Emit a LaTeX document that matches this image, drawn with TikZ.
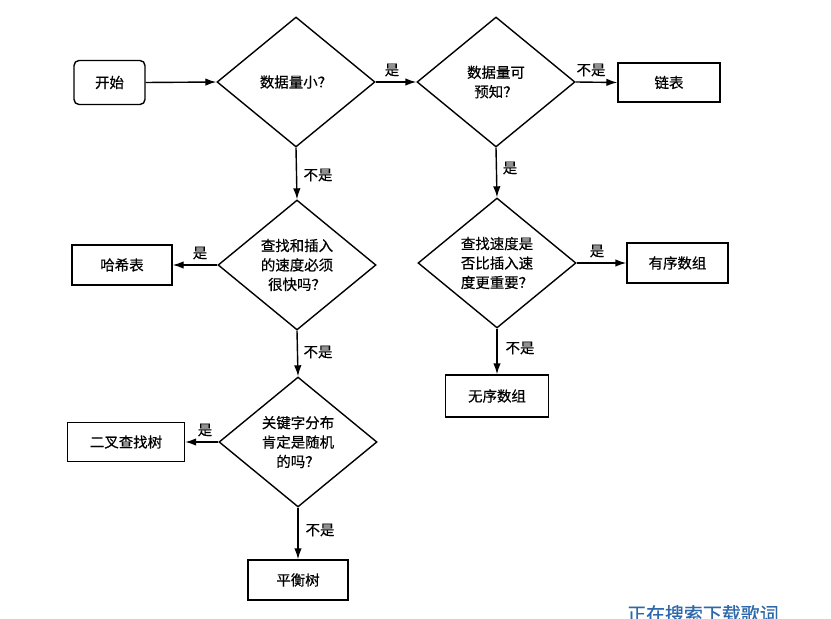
\documentclass[tikz,border=0pt]{standalone}
\usepackage{fontspec}
\setmainfont[FakeBold=0.5]{Noto Sans CJK SC}
\usetikzlibrary{shapes.geometric,arrows.meta}
\definecolor{wmblue}{RGB}{45,105,170}
\tikzset{
  every node/.style={font=\fontsize{14.5}{19.5}\selectfont},
  box/.style={draw, line width=1.4bp, minimum height=40bp, inner sep=0pt},
  startbox/.style={draw, line width=1.4bp, rounded corners=5bp, minimum width=71bp, minimum height=44bp},
  dec/.style={draw, diamond, line width=1.4bp, aspect=1.215, minimum width=158bp, minimum height=130bp, inner sep=0pt, align=center},
  arr/.style={line width=1.4bp, -{Latex[length=11bp,width=7.5bp]}},
  lbl/.style={inner sep=0pt}
}
\begin{document}
\begin{tikzpicture}[x=1bp,y=-1bp]
\useasboundingbox (0,0) rectangle (831,619);
\fill[white] (0,0) rectangle (831,619);
% nodes
\node[startbox] (start) at (109.5,82.5) {开始};
\node[dec] (d1) at (296,82) {数据量小？};
\node[dec] (d2) at (496,82) {数据量可\\预知？};
\node[box, minimum width=102bp, minimum height=39bp] (list) at (669,82.5) {链表};
\node[dec] (d3) at (297,265) {查找和插入\\的速度必须\\很快吗？};
\node[box, minimum width=100bp] (hash) at (122,265) {哈希表};
\node[dec] (d4) at (497,263) {查找速度是\\否比插入速\\度更重要？};
\node[box, minimum width=101bp] (sorted) at (677.5,263) {有序数组};
\node[box, minimum width=103bp, minimum height=42bp] (unsorted) at (497,396) {无序数组};
\node[dec] (d5) at (298,442) {关键字分布\\肯定是随机\\的吗？};
\node[box, minimum width=117bp, minimum height=39bp] (bst) at (126,442) {二叉查找树};
\node[box, minimum width=100bp] (avl) at (298,580) {平衡树};
% connectors
\draw[arr] (start.east) -- (d1.west);
\draw[arr] (d1.east) -- (d2.west);
\draw[arr] (d2.east) -- (list.west);
\draw[arr] (d1.south) -- (d3.north);
\draw[arr] (d2.south) -- (d4.north);
\draw[arr] (d3.west) -- (hash.east);
\draw[arr] (d4.east) -- (sorted.west);
\draw[arr] (d3.south) -- (d5.north);
\draw[arr] (d4.south) -- (unsorted.north);
\draw[arr] (d5.west) -- (bst.east);
\draw[arr] (d5.south) -- (avl.north);
% labels
\node[lbl] (l1) at (392,70) {是};
\node[lbl] (l2) at (591,70) {不是};
\node[lbl] (l3) at (318,175) {不是};
\node[lbl] (l4) at (510,168) {是};
\node[lbl] (l5) at (200,253) {是};
\node[lbl] (l6) at (597,251) {是};
\node[lbl] (l7) at (318,352) {不是};
\node[lbl] (l8) at (520,348) {不是};
\node[lbl] (l9) at (205,430) {是};
\node[lbl] (l10) at (320,530) {不是};
% watermark, cut off at the bottom edge as in the reference
\begin{scope}
\clip (0,0) rectangle (831,619);
\node[anchor=north west, inner sep=0pt, text=wmblue, font=\fontsize{19}{19}\selectfont] (wm) at (627,605) {正在搜索下载歌词};
\end{scope}
\end{tikzpicture}
\end{document}
